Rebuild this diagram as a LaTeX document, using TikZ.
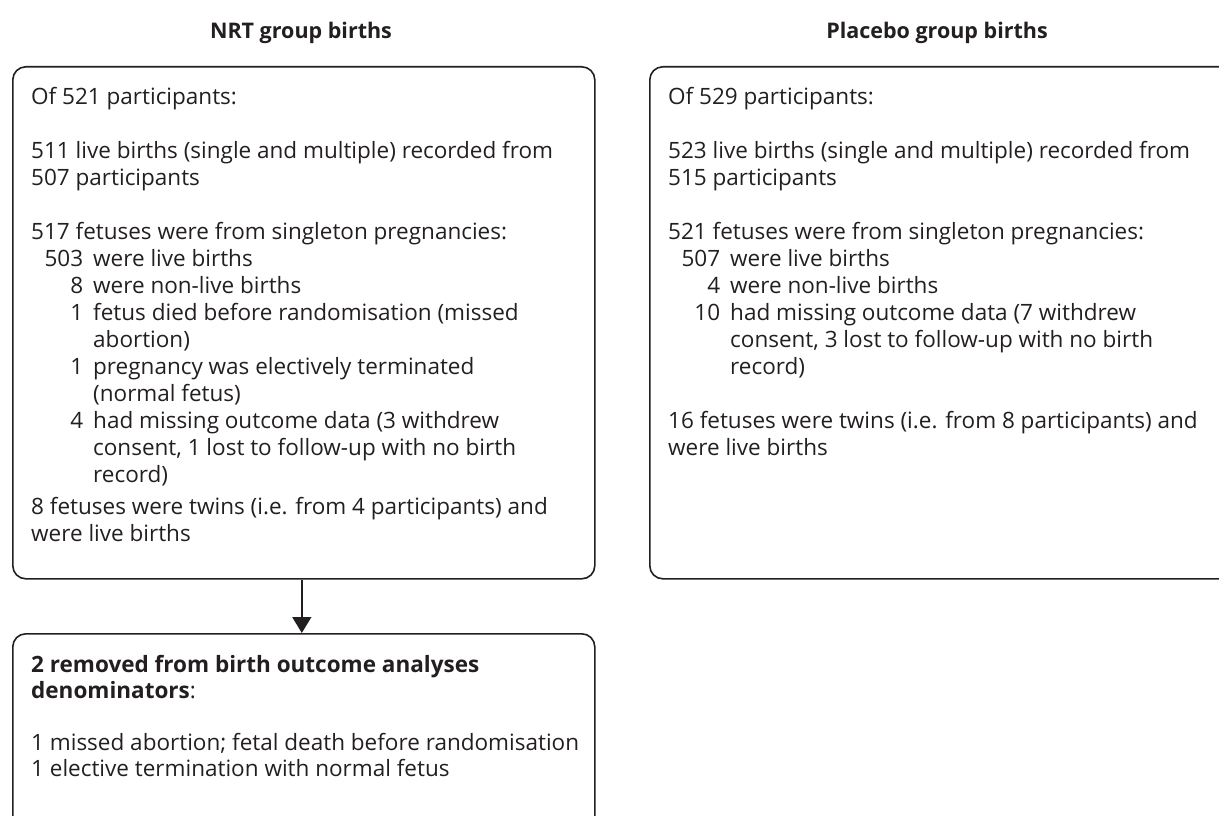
\documentclass[tikz,border=0pt]{standalone}
\usepackage{fontspec}
\setmainfont{Open Sans}
\usetikzlibrary{arrows.meta}
\definecolor{ink}{HTML}{231F20}
\newcommand\nm[1]{\makebox[52pt][r]{#1}\hspace*{10pt}}
\newcommand\cn{\hspace*{62pt}}
\tikzset{
  box/.style={draw=ink, line width=1.6pt, rounded corners=13pt, fill=none, inner sep=0pt, anchor=north west},
  body/.style={text=ink, inner sep=0pt, anchor=north west, align=left, font=\fontsize{22.5}{27}\selectfont},
  head/.style={text=ink, inner sep=0pt, anchor=base, font=\bfseries\fontsize{21.5}{25}\selectfont},
  link/.style={draw=ink, line width=1.6pt, -{Triangle[length=16pt,width=19pt]}}
}
\begin{document}
\begin{tikzpicture}[x=1pt,y=-1pt]
\useasboundingbox (0,0) rectangle (1219,816);
\clip (0,0) rectangle (1219,816);
\node[head] (h1) at (301,39) {NRT group births};
\node[head] (h2) at (937,39) {Placebo group births};
\node[box, minimum width=582pt, minimum height=512pt] (nrt) at (12,66) {};
\node[box, minimum width=620pt, minimum height=512pt] (pla) at (649,66) {};
\node[box, minimum width=582pt, minimum height=240pt] (rem) at (12,633) {};
\node[body] (t1) at (31,87) {Of 521 participants:\\[27pt]
511 live births (single and multiple) recorded from\\
507 participants\\[27pt]
517 fetuses were from singleton pregnancies:\\
\nm{503}were live births\\
\nm{8}were non-live births\\
\nm{1}fetus died before randomisation (missed\\
\cn abortion)\\
\nm{1}pregnancy was electively terminated\\
\cn(normal fetus)\\
\nm{4}had missing outcome data (3 withdrew\\
\cn consent, 1 lost to follow-up with no birth\\
\cn record)\\[5pt]
8 fetuses were twins (i.e. from 4 participants) and\\
were live births};
\node[body] (t2) at (668,87) {Of 529 participants:\\[27pt]
523 live births (single and multiple) recorded from\\
515 participants\\[27pt]
521 fetuses were from singleton pregnancies:\\
\nm{507}were live births\\
\nm{4}were non-live births\\
\nm{10}had missing outcome data (7 withdrew\\
\cn consent, 3 lost to follow-up with no birth\\
\cn record)\\[27pt]
16 fetuses were twins (i.e. from 8 participants) and\\
were live births};
\node[body, font=\fontsize{22.5}{26}\selectfont] (t3) at (31,655) {\textbf{2 removed from birth outcome analyses}\\
\textbf{denominators}:\\[26pt]
1 missed abortion; fetal death before randomisation\\
1 elective termination with normal fetus};
\draw[link] ([xshift=-2pt]nrt.south) -- ([xshift=-2pt]rem.north);
\end{tikzpicture}
\end{document}
